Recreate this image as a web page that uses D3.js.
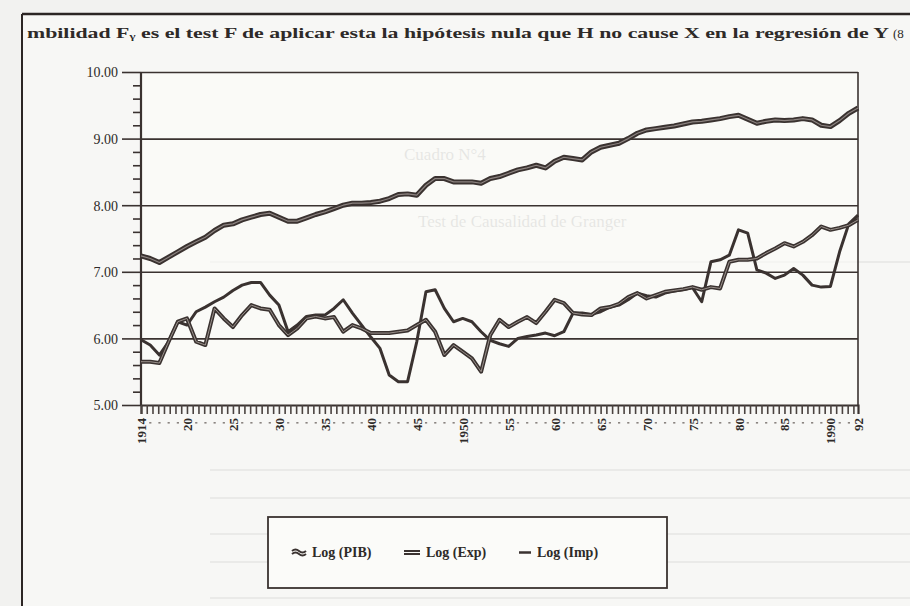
<!DOCTYPE html>
<html>
<head>
<meta charset="utf-8">
<script src="https://cdn.jsdelivr.net/npm/d3@7/dist/d3.min.js"></script>
<style>
  body { margin: 0; background: #f2f2f0; }
  svg text { font-family: "Liberation Serif", "DejaVu Serif", serif; }
</style>
</head>
<body>
<div id="chart"></div>
<script>
// annual series 1914-1992
var years = d3.range(1914, 1993)

var logPIB = [
  7.24, 7.20, 7.14, 7.22, 7.30, 7.38, 7.45, 7.52, 7.62, 7.70,
  7.72, 7.78, 7.82, 7.86, 7.88, 7.82, 7.76, 7.76, 7.81, 7.86,
  7.90, 7.95, 8.00, 8.03, 8.03, 8.04, 8.06, 8.10, 8.16, 8.17,
  8.15, 8.30, 8.40, 8.40, 8.35, 8.35, 8.35, 8.33, 8.40, 8.43,
  8.48, 8.53, 8.56, 8.60, 8.56, 8.66, 8.72, 8.70, 8.68, 8.80,
  8.87, 8.90, 8.93, 9.00, 9.08, 9.13, 9.15, 9.17, 9.19, 9.22,
  9.25, 9.26, 9.28, 9.30, 9.33, 9.35, 9.29, 9.23, 9.26, 9.28,
  9.27, 9.28, 9.30, 9.28, 9.20, 9.18, 9.27, 9.38, 9.46
]

var logExp = [
  5.65, 5.65, 5.63, 5.95, 6.25, 6.30, 5.95, 5.90, 6.45, 6.30,
  6.17, 6.35, 6.50, 6.45, 6.43, 6.20, 6.05, 6.15, 6.30, 6.33,
  6.30, 6.32, 6.10, 6.20, 6.15, 6.08, 6.08, 6.08, 6.10, 6.12,
  6.20, 6.28, 6.10, 5.75, 5.90, 5.80, 5.70, 5.50, 6.05, 6.28,
  6.17, 6.25, 6.32, 6.23, 6.40, 6.58, 6.53, 6.38, 6.36, 6.35,
  6.45, 6.47, 6.52, 6.62, 6.68, 6.60, 6.65, 6.70, 6.72, 6.74,
  6.77, 6.73, 6.77, 6.75, 7.15, 7.18, 7.18, 7.20, 7.28, 7.35,
  7.43, 7.38, 7.45, 7.55, 7.68, 7.63, 7.66, 7.70, 7.78
]

var logImp = [
  5.98, 5.90, 5.75, 5.95, 6.25, 6.20, 6.40, 6.47, 6.55, 6.62,
  6.72, 6.80, 6.84, 6.84, 6.65, 6.50, 6.10, 6.20, 6.33, 6.35,
  6.35, 6.45, 6.58, 6.38, 6.20, 6.02, 5.85, 5.45, 5.35, 5.35,
  5.95, 6.70, 6.73, 6.45, 6.25, 6.30, 6.25, 6.10, 5.97, 5.92,
  5.88, 6.00, 6.03, 6.05, 6.08, 6.04, 6.10, 6.38, 6.38, 6.36,
  6.40, 6.47, 6.50, 6.58, 6.68, 6.64, 6.62, 6.68, 6.71, 6.73,
  6.76, 6.55, 7.15, 7.18, 7.25, 7.63, 7.58, 7.03, 6.98, 6.90,
  6.95, 7.05, 6.95, 6.80, 6.77, 6.78, 7.30, 7.72, 7.85
]

var yTicks = [5, 6, 7, 8, 9, 10]
var xLabelYears = [1914, 1919, 1924, 1929, 1934, 1939, 1944, 1949, 1954, 1959, 1964, 1969, 1974, 1979, 1984, 1989, 1992]
var xLabels = ["1914", "20", "25", "30", "35", "40", "45", "1950", "55", "60", "65", "70", "75", "80", "85", "1990", "92"]
var seriesNames = ["Log (PIB)", "Log (Exp)", "Log (Imp)"]

var ink = "#3a3230"
var W = 910, H = 606
var margin = {top: 72, right: 52, bottom: 201, left: 141}
var width = W - margin.left - margin.right,
    height = H - margin.top - margin.bottom

var svg = d3.select("#chart").append("svg")
    .attr("width", W)
    .attr("height", H)

// page around the figure (scan)
svg.append("rect").attr("width", W).attr("height", H).attr("fill", "#f2f2f0")
svg.append("rect")
    .attr("x", 23).attr("y", 15).attr("width", W - 23).attr("height", H - 15)
    .attr("fill", "#f7f7f5")

// bleed-through from the other side of the page
var ghost = svg.append("g").attr("fill", "#000").attr("opacity", 0.2)
ghost.append("text").attr("x", 404).attr("y", 160).style("font-size", "17px").text("Cuadro N°4")
ghost.append("text").attr("x", 418).attr("y", 227).style("font-size", "17px").text("Test de Causalidad de Granger")
var ghostLines = [262, 470, 498, 534, 562, 598]
ghostLines.forEach(function(gy) {
  svg.append("line").attr("x1", 210).attr("x2", W).attr("y1", gy).attr("y2", gy)
      .attr("stroke", "#000").attr("stroke-opacity", 0.07).attr("stroke-width", 1.5)
})

// outer frame of the figure
svg.append("line").attr("x1", 22).attr("x2", W).attr("y1", 14).attr("y2", 14)
    .attr("stroke", "#2c2624").attr("stroke-width", 2.5)
svg.append("line").attr("x1", 22).attr("x2", 22).attr("y1", 14).attr("y2", H)
    .attr("stroke", "#2c2624").attr("stroke-width", 2)

svg.append("text")
    .attr("x", 27).attr("y", 38)
    .attr("textLength", 862).attr("lengthAdjust", "spacingAndGlyphs")
    .style("font-size", "14px").attr("fill", "#2e2a28").style("font-weight", "bold")
    .text("mbilidad F\u1d67 es el test F de aplicar esta la hipótesis nula que H no cause X en la regresión de Y")
svg.append("text").attr("x", 893).attr("y", 38).style("font-size", "13px").attr("fill", "#2e2a28").text("(8")

var g = svg.append("g")
    .attr("transform", "translate(" + margin.left + "," + margin.top + ")")

var x = d3.scaleLinear().domain([1914, 1992]).range([0, width])
var y = d3.scaleLinear().domain([5, 10]).range([height, 0])

g.append("rect").attr("width", width).attr("height", height).attr("fill", "#fbfbf9").attr("fill-opacity", 0.6)

// gridlines
g.append("g")
    .call(d3.axisLeft(y).tickValues(yTicks.slice(1)).tickSize(-width).tickFormat(""))
    .call(function(s) { s.select(".domain").remove() })
    .selectAll("line").attr("stroke", ink).attr("stroke-width", 1.6)

// minor y ticks every 0.2
var minorY = []
yTicks.slice(0, -1).forEach(function(t) { [0.2, 0.4, 0.6, 0.8].forEach(function(f) { minorY.push(t + f) }) })
g.append("g")
    .call(d3.axisLeft(y).tickValues(minorY).tickSize(8).tickFormat(""))
    .call(function(s) { s.select(".domain").remove() })
    .selectAll("line").attr("stroke", ink).attr("stroke-width", 1.6)

// major y ticks + labels
var yAxis = g.append("g")
    .call(d3.axisLeft(y).tickValues(yTicks).tickSize(19).tickPadding(4).tickFormat(d3.format(".2f")))
yAxis.select(".domain").remove()
yAxis.selectAll("line").attr("stroke", ink).attr("stroke-width", 1.6)
yAxis.selectAll("text").attr("fill", "#2e2a28").style("font-size", "14px")
    .style("font-family", "'Liberation Serif', serif").attr("dy", "0.35em")

// x ticks (dense)
var minorX = d3.range(1914, 1992.01, 0.625)
var xAxis = g.append("g")
    .attr("transform", "translate(0," + height + ")")
    .call(d3.axisBottom(x).tickValues(minorX).tickSize(9).tickFormat(""))
xAxis.select(".domain").attr("stroke", ink).attr("stroke-width", 2.2)
xAxis.selectAll(".tick line").attr("stroke", "#4a4340").attr("stroke-width", 1.6)

// hidden category labels showing as dots
g.append("g").selectAll("rect")
    .data(years.filter(function(d) { return xLabelYears.indexOf(d) < 0 }))
    .enter().append("rect")
    .attr("x", function(d) { return x(d) - 1 })
    .attr("y", height + 17)
    .attr("width", 2.2).attr("height", 1.6)
    .attr("fill", "#8a8480")

// rotated year labels
g.append("g").selectAll("text")
    .data(xLabelYears)
    .enter().append("text")
    .attr("transform", function(d) { return "translate(" + (x(d) + 5) + "," + (height + 13) + ")rotate(-90)" })
    .attr("text-anchor", "end")
    .style("font-size", "13px").style("font-weight", "bold")
    .attr("fill", "#2e2a28")
    .text(function(d, i) { return xLabels[i] })

// frame: left axis, top, right
g.append("line").attr("x1", 0).attr("x2", 0).attr("y1", 0).attr("y2", height)
    .attr("stroke", ink).attr("stroke-width", 2.2)
g.append("line").attr("x1", width).attr("x2", width).attr("y1", 0).attr("y2", height)
    .attr("stroke", ink).attr("stroke-width", 1.6)

var line = d3.line()
    .x(function(d, i) { return x(years[i]) })
    .y(function(d) { return y(d) })

// Log(Imp): single line
g.append("path").datum(logImp)
    .attr("d", line).attr("fill", "none")
    .attr("stroke", ink).attr("stroke-width", 3).attr("stroke-linejoin", "round")

// Log(Exp): double line
g.append("path").datum(logExp)
    .attr("d", line).attr("fill", "none")
    .attr("stroke", ink).attr("stroke-width", 4).attr("stroke-linejoin", "round")
g.append("path").datum(logExp)
    .attr("d", line).attr("fill", "none")
    .attr("stroke", "#9a918c").attr("stroke-width", 1).attr("stroke-linejoin", "round")

// Log(PIB): thick double line
g.append("path").datum(logPIB)
    .attr("d", line).attr("fill", "none")
    .attr("stroke", ink).attr("stroke-width", 5).attr("stroke-linejoin", "round")
g.append("path").datum(logPIB)
    .attr("d", line).attr("fill", "none")
    .attr("stroke", "#8c8380").attr("stroke-width", 1.2).attr("stroke-linejoin", "round")

// Legend
var legend = svg.append("g")
legend.append("rect")
    .attr("x", 268).attr("y", 517).attr("width", 399).attr("height", 71)
    .attr("fill", "#fbfbf9").attr("stroke", ink).attr("stroke-width", 1.8)

var legX = [292, 404, 519]
var legW = [14, 16, 12]
seriesNames.forEach(function(name, i) {
  var it = legend.append("g").attr("transform", "translate(" + legX[i] + ",552)")
  if (i === 0) {
    it.append("path").attr("d", "M0,-1 q3.5,-3 7,0 t7,0").attr("fill", "none").attr("stroke", ink).attr("stroke-width", 2)
    it.append("path").attr("d", "M0,2 q3.5,-3 7,0 t7,0").attr("fill", "none").attr("stroke", ink).attr("stroke-width", 2)
  } else if (i === 1) {
    it.append("line").attr("x1", 0).attr("x2", legW[i]).attr("y1", -1).attr("y2", -1).attr("stroke", ink).attr("stroke-width", 2)
    it.append("line").attr("x1", 0).attr("x2", legW[i]).attr("y1", 2).attr("y2", 2).attr("stroke", ink).attr("stroke-width", 2)
  } else {
    it.append("line").attr("x1", 0).attr("x2", legW[i]).attr("y1", 0.5).attr("y2", 0.5).attr("stroke", ink).attr("stroke-width", 2.5)
  }
  it.append("text").attr("x", legW[i] + 6).attr("y", 5)
    .style("font-size", "14px").style("font-weight", "bold").attr("fill", "#2e2a28")
    .text(name)
})
</script>
</body>
</html>
